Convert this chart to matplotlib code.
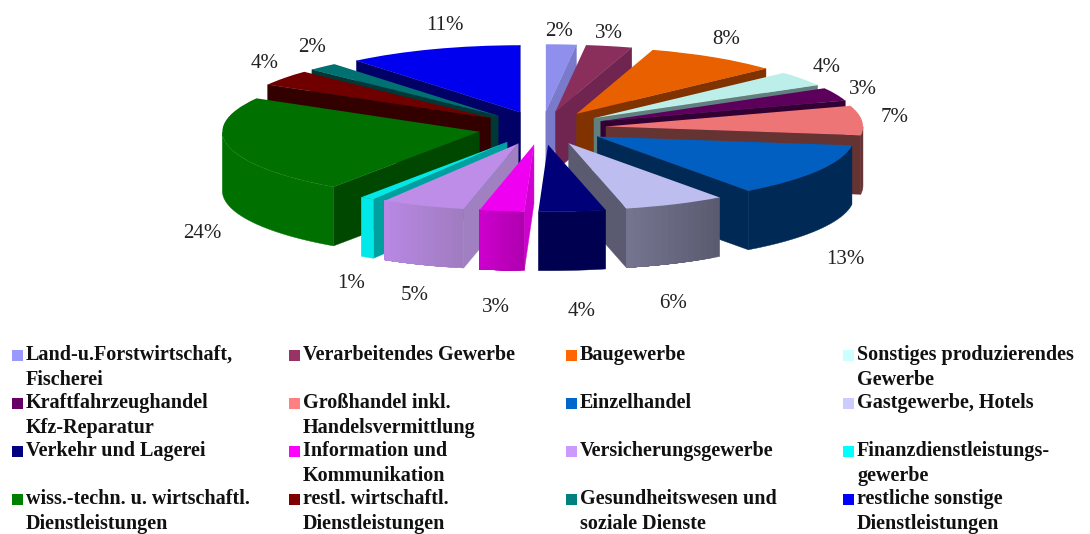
import numpy as np
import matplotlib
matplotlib.use('Agg')
import matplotlib.pyplot as plt
from matplotlib.colors import to_rgb
from matplotlib.patches import Polygon, Rectangle

# Shares read from the slice edges (the labels show them rounded)
branches = ['Land-u.Forstwirtschaft,\nFischerei', 'Verarbeitendes Gewerbe', 'Baugewerbe',
            'Sonstiges produzierendes\nGewerbe', 'Kraftfahrzeughandel\nKfz-Reparatur',
            'Großhandel inkl.\nHandelsvermittlung', 'Einzelhandel', 'Gastgewerbe, Hotels',
            'Verkehr und Lagerei', 'Information und\nKommunikation', 'Versicherungsgewerbe',
            'Finanzdienstleistungs-\ngewerbe', 'wiss.-techn. u. wirtschaftl.\nDienstleistungen',
            'restl. wirtschaftl.\nDienstleistungen', 'Gesundheitswesen und\nsoziale Dienste',
            'restliche sonstige\nDienstleistungen']
shares = [1.9, 2.9, 8.4, 3.6, 3.2, 7.1, 12.9, 6.4, 4.2, 2.8, 5.3, 0.9, 23.7, 3.8, 1.9, 11.0]

top_colors = ['#8f8fee', '#8a2f5c', '#e86000', '#bdefea', '#5c005c', '#ee7575', '#005fc0', '#bdbdef',
              '#000078', '#f000f0', '#bd8de8', '#00e8e8', '#007000', '#700000', '#007070', '#0000ee']
side_colors = ['#7a7acc', '#702550', '#803300', '#608080', '#330033', '#663333', '#002a55', '#5a5a70',
               '#000050', '#d000d0', '#a080c0', '#00a0a0', '#004800', '#330000', '#003838', '#000066']
outer_left = ['#7a7acc', '#702550', '#803300', '#608080', '#330033', '#663333', '#002a55', '#74748f',
              '#000050', '#cc00cc', '#b888e4', '#00e8e8', '#007000', '#330000', '#003838', '#000066']
outer_right = ['#7a7acc', '#702550', '#803300', '#608080', '#330033', '#663333', '#002a55', '#5a5a70',
               '#000050', '#b000b0', '#a07cc0', '#00e8e8', '#007000', '#330000', '#003838', '#000066']
legend_colors = ['#9999ff', '#993366', '#ff6600', '#ccffff', '#660066', '#ff8080', '#0066cc', '#ccccff',
                 '#000080', '#ff00ff', '#cc99ff', '#00ffff', '#008000', '#800000', '#008080', '#0000ff']

# pixel centre of each percent label
label_px = [(559, 32), (609, 33), (726, 40), (827, 67), (863, 89), (895, 118), (845, 259), (673, 303),
            (582, 312), (496, 308), (415, 295), (351, 283), (202, 233), (265, 64), (312, 48), (445, 26)]

W, H = 1090, 534
cx, cy = 542, 128      # pie centre in pixels
rx, ry = 257, 67       # pixels per data unit
depth = 59 / ry

plt.rcParams['font.family'] = ['Liberation Serif', 'DejaVu Serif']

fig = plt.figure(figsize=(W / 100, H / 100), dpi=100)
ax = fig.add_axes([0, 0, 1, 1])
wedges, _ = ax.pie(shares, explode=[0.25] * len(shares), colors=top_colors, startangle=90,
                   counterclock=False, wedgeprops={'linewidth': 0})
ax.set_aspect('auto')
ax.set_xlim(-cx / rx, (W - cx) / rx)
ax.set_ylim((cy - H) / ry, cy / ry)


def wall(pts, color, z):
    pts = np.array(pts)
    low = pts[::-1] - [0, depth]
    ax.add_patch(Polygon(np.vstack([pts, low]), closed=True, facecolor=color, edgecolor=color,
                         linewidth=0.3, zorder=z))


# back slices first, so the front ones cover them
mids = [(w.theta1 + w.theta2) / 2 for w in wedges]
order = np.argsort([-np.sin(np.radians(m)) for m in mids])

for rank, i in enumerate(order):
    w = wedges[i]
    c = np.array(w.center)
    z = 2 + rank
    t1, t2 = w.theta1, w.theta2   # t1 is the clockwise end, t2 the clockwise start
    edge = lambda t: c + [np.cos(np.radians(t)), np.sin(np.radians(t))]

    # cut faces
    if np.cos(np.radians(t1)) > 0:
        wall([c, edge(t1)], side_colors[i], z)
    if np.cos(np.radians(t2)) < 0:
        wall([c, edge(t2)], side_colors[i], z)

    # outer rim, only the part below the horizontal is visible
    angles = [a for a in np.linspace(t1, t2, 60) if np.sin(np.radians(a)) < 0.001]
    if len(angles) > 1:
        if outer_left[i] == outer_right[i]:
            wall([edge(a) for a in angles], outer_left[i], z)
        else:
            # gradient: right to left, each band painted over the rest of the rim
            left, right = np.array(to_rgb(outer_left[i])), np.array(to_rgb(outer_right[i]))
            steps = np.linspace(angles[0], angles[-1], 15)[::-1]
            for k, a in enumerate(steps[:-1]):
                rest = np.linspace(a, steps[-1], 20)
                wall([edge(t) for t in rest], tuple(right + (left - right) * k / 13), z)

    w.set_zorder(z + 0.5)

# overlay in picture pixels for labels and legend
lay = fig.add_axes([0, 0, 1, 1], zorder=50)
lay.set_xlim(0, W)
lay.set_ylim(H, 0)
lay.axis('off')

for s, (x, y) in zip(shares, label_px):
    lay.text(x, y, f'{s:.0f}%', ha='center', va='center', fontsize=15, color='#222222')

col_x = [12, 289, 566, 843]
row_y = [355, 403, 451, 499]
for i, name in enumerate(branches):
    x, y = col_x[i % 4], row_y[i // 4]
    lay.add_patch(Rectangle((x, y - 5.5), 11, 11, facecolor=legend_colors[i], linewidth=0))
    lay.text(x + 14, y - 10, name, ha='left', va='top', fontsize=14.5, fontweight='bold',
             color='#111111', linespacing=1.35)

fig.savefig('out.png', dpi=100)
